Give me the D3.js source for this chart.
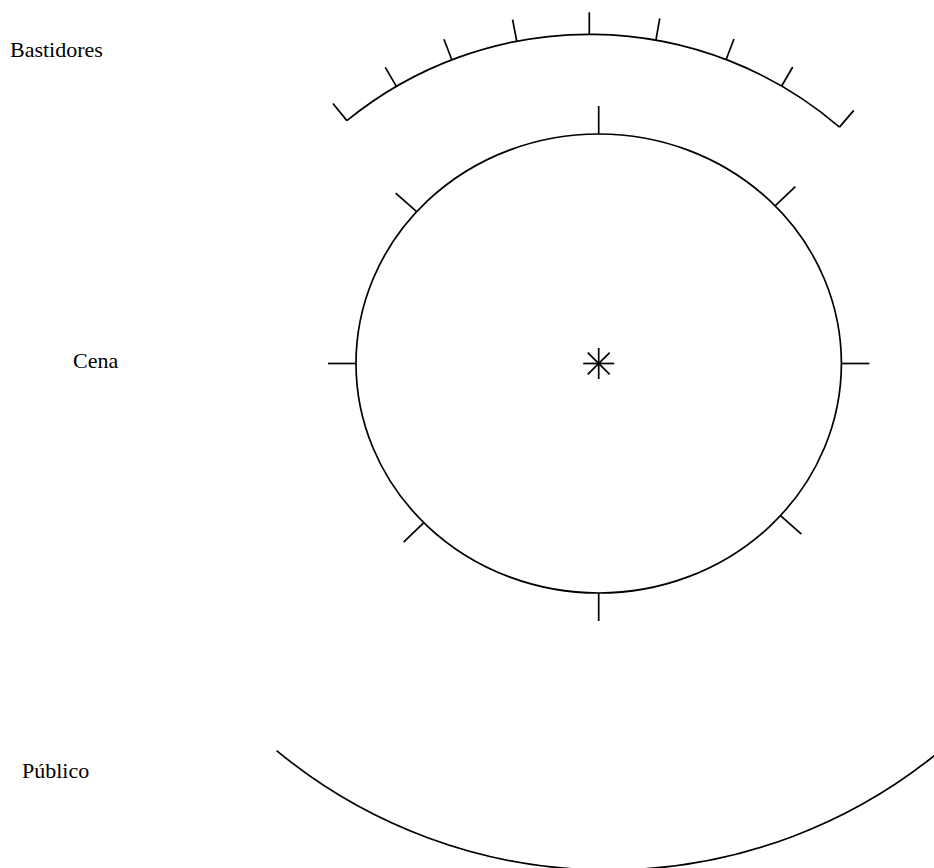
<!DOCTYPE html>
<html>
<head>
<meta charset="utf-8">
<script src="https://cdn.jsdelivr.net/npm/d3@7"></script>
<style>
  html, body { margin: 0; padding: 0; background: #fff; overflow: hidden; }
  text { font-family: "Liberation Serif", "Times New Roman", serif; font-size: 22px; fill: #000; }
</style>
</head>
<body>
<div id="chart"></div>
<script>
// zones of the stage plan
var zoneLabels = ["Bastidores", "Cena", "Público"];
// tick angles on the backstage arc, degrees from vertical (negative = left)
var wingTicks = [-39.2, -30.2, -21, -10.9, 0, 10, 20.9, 30.1, 40.7];
// tick angles round the stage ellipse, degrees (0 = right, counter-clockwise)
var stageTicks = [0, 43.4, 90, 138.6, 180, 223.9, 270, 318.5];
// audience arc extent, degrees from downward vertical (negative = right)
var audienceSpan = [-40, 39.6];
// centre mark arms, degrees
var starArms = [0, 45, 90, 135];

var width = 934, height = 868;
var deg = d3.scaleLinear().domain([0, 180]).range([0, Math.PI]);

var svg = d3.select('#chart').append('svg')
  .attr('width', width)
  .attr('height', height);

var g = svg.append('g')
  .attr('fill', 'none')
  .attr('stroke', '#000')
  .attr('stroke-width', 1.7)
  .attr('stroke-linecap', 'butt');

// backstage arc
var wing = { cx: 589.3, cy: 417.9, r: 383.6, tick: 22 };
var p = d3.path();
p.arc(wing.cx, wing.cy, wing.r,
      -Math.PI / 2 + deg(d3.min(wingTicks)),
      -Math.PI / 2 + deg(d3.max(wingTicks)));
g.append('path').attr('d', p.toString());

g.selectAll('line.wing')
  .data(wingTicks)
  .enter().append('line')
  .attr('class', 'wing')
  .attr('x1', d => wing.cx + wing.r * Math.sin(deg(d)))
  .attr('y1', d => wing.cy - wing.r * Math.cos(deg(d)))
  .attr('x2', d => wing.cx + (wing.r + wing.tick) * Math.sin(deg(d)))
  .attr('y2', d => wing.cy - (wing.r + wing.tick) * Math.cos(deg(d)));

// stage ellipse
var stage = { cx: 598.7, cy: 363.5, rx: 242.7, ry: 229.5, tick: 28 };
g.append('ellipse')
  .attr('cx', stage.cx).attr('cy', stage.cy)
  .attr('rx', stage.rx).attr('ry', stage.ry);

g.selectAll('line.stage')
  .data(stageTicks)
  .enter().append('line')
  .attr('class', 'stage')
  .attr('x1', d => stage.cx + stage.rx * Math.cos(deg(d)))
  .attr('y1', d => stage.cy - stage.ry * Math.sin(deg(d)))
  .attr('x2', d => stage.cx + (stage.rx + stage.tick) * Math.cos(deg(d)))
  .attr('y2', d => stage.cy - (stage.ry + stage.tick) * Math.sin(deg(d)));

// centre mark
var star = 15.5;
g.selectAll('line.star')
  .data(starArms)
  .enter().append('line')
  .attr('class', 'star')
  .attr('x1', d => stage.cx - star * Math.cos(deg(d)))
  .attr('y1', d => stage.cy - star * Math.sin(deg(d)))
  .attr('x2', d => stage.cx + star * Math.cos(deg(d)))
  .attr('y2', d => stage.cy + star * Math.sin(deg(d)));

// audience arc
var aud = { cx: 608.5, cy: 349.4, r: 520.7 };
var q = d3.path();
q.arc(aud.cx, aud.cy, aud.r,
      Math.PI / 2 + deg(audienceSpan[0]),
      Math.PI / 2 + deg(audienceSpan[1]));
g.append('path').attr('d', q.toString());

// labels
var labelPos = [[10, 57], [73, 368], [22, 778]];
svg.selectAll('text')
  .data(zoneLabels)
  .enter().append('text')
  .attr('x', (d, i) => labelPos[i][0])
  .attr('y', (d, i) => labelPos[i][1])
  .text(d => d);
</script>
</body>
</html>
